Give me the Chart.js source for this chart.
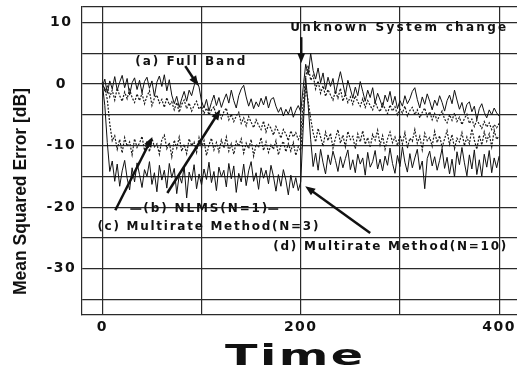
<!DOCTYPE html>
<html>
<head>
<meta charset="utf-8">
<style>
  html, body { margin: 0; padding: 0; background: #fff; }
  #wrap { width: 517px; height: 369px; }
</style>
<script src="https://cdn.jsdelivr.net/npm/chart.js@4.4.0/dist/chart.umd.min.js"></script>
</head>
<body>
<div id="wrap"><canvas id="mse" width="517" height="369"></canvas></div>
<script>
// one sample every 2.5 time steps, from 0 to 400
var timeStep = 2.5;

// (a) full band - solid, top
var fullBand = [
  -0.5, 0.8, -1.5, 0.5, -0.8, 1.2, -1.0, 0.3, 1.4, -0.6,
  0.9, -1.8, 0.2, 1.0, -0.9, 0.6, -1.4, 0.4, 1.1, -0.7,
  0.5, -2.0, 0.3, 1.3, -0.4, 1.5, -1.1, 0.7, -1.8, -3.2,
  -2.0, -3.8, -2.4, -1.2, -2.8, -1.0, -1.9, -0.3, 0.6, -0.5,
  -2.8, -3.9, -2.5, -4.4, -3.0, -1.8, -3.5, -2.2, -3.8, -2.6,
  -1.6, -3.1, -1.0, -2.7, -3.9, -1.9, -0.8, -0.2, -2.1, -3.6,
  -2.4, -4.0, -2.9, -3.7, -2.3, -3.4, -2.0, -3.9, -2.5, -2.2,
  -3.6, -4.6, -3.8, -5.2, -4.1, -4.9, -3.7, -5.4, -4.3, -3.5,
  -4.5, -0.5, 3.2, 1.5, 5.0, 2.2, 0.8, 2.6, 0.2, 1.8,
  -0.9, 1.1, -0.4, 0.9, -1.6, 0.3, 2.0, 0.1, -1.8, 0.6,
  -0.8, -2.3, -0.5, -1.9, 0.4, -1.2, -2.8, -1.0, -2.2, -0.6,
  -3.1, -1.5, -2.6, -3.8, -1.8, -2.9, -1.2, -3.4, -2.0, -4.0,
  -2.7, -3.6, -1.9, -3.2, -2.4, -1.2, -0.6, -2.5, -3.9, -2.1,
  -3.3, -1.6, -2.8, -4.2, -2.6, -3.5, -1.9, -3.0, -4.4, -2.7,
  -1.8, -3.2, -1.0, -2.6, -4.1, -3.0, -4.8, -3.3, -2.9, -4.5,
  -3.6, -5.8, -4.0, -3.2, -4.6, -5.5, -4.2, -5.0, -3.9, -4.7,
  -5.2
];

// (b) NLMS(N=1) - dotted, slow
var nlms = [
  0.3, -1.2, -0.4, -2.1, -1.0, -2.6, -0.7, -1.9, -2.8, -1.3,
  -2.4, -0.9, -2.2, -3.0, -1.6, -2.7, -1.5, -3.2, -2.0, -1.1,
  -3.5, -2.3, -1.8, -3.1, -2.5, -3.8, -2.2, -3.4, -2.9, -4.2,
  -3.0, -4.6, -3.3, -2.6, -4.0, -3.1, -4.4, -3.5, -2.8, -4.1,
  -3.6, -4.8, -3.9, -5.0, -4.2, -3.7, -5.3, -4.4, -5.6, -4.5,
  -3.9, -5.8, -4.9, -6.1, -5.2, -4.6, -6.4, -5.5, -6.8, -5.3,
  -6.2, -7.1, -5.8, -6.7, -7.4, -6.0, -7.8, -6.6, -7.2, -8.3,
  -6.9, -7.7, -8.8, -7.4, -8.1, -9.2, -7.6, -8.6, -7.9, -9.0,
  -8.2, -3.0, 1.2, 3.0, 0.6, 1.4, -0.8, 0.5, -1.5, -0.3,
  -2.0, -0.9, -1.8, -2.6, -1.1, -2.3, -0.7, -2.8, -1.6, -3.0,
  -2.1, -3.3, -1.9, -2.9, -3.6, -2.4, -3.8, -2.7, -3.5, -4.2,
  -2.9, -3.9, -4.5, -3.2, -4.0, -4.8, -3.4, -4.4, -3.7, -5.0,
  -4.1, -4.7, -3.6, -5.2, -4.3, -3.8, -5.0, -4.2, -5.5, -4.6,
  -3.9, -5.3, -4.5, -5.8, -4.8, -6.0, -5.1, -4.4, -5.7, -6.3,
  -5.0, -5.9, -4.7, -6.1, -5.4, -6.6, -5.6, -4.9, -6.4, -5.7,
  -6.9, -5.9, -6.5, -7.2, -6.1, -7.0, -6.3, -7.4, -6.6, -7.1,
  -6.4
];

// (c) multirate N=3 - dotted, around -10
var multirate3 = [
  0.0, -0.8, -2.5, -6.5, -9.2, -8.4, -10.6, -9.0, -11.2, -8.7,
  -10.1, -9.4, -11.5, -8.9, -10.3, -9.6, -8.5, -10.8, -9.3, -11.0,
  -8.8, -10.2, -9.7, -11.4, -9.0, -8.3, -10.5, -9.5, -11.8, -9.1,
  -10.4, -8.6, -10.9, -9.8, -11.3, -8.9, -10.0, -9.4, -11.1, -8.7,
  -10.3, -9.2, -11.6, -9.9, -8.8, -10.7, -9.5, -11.0, -9.1, -10.4,
  -8.6, -10.9, -9.7, -11.4, -9.3, -10.1, -8.9, -11.2, -9.6, -10.5,
  -9.0, -11.7, -9.8, -10.3, -8.7, -10.8, -9.4, -11.1, -9.9, -10.6,
  -9.2, -11.5, -10.0, -9.3, -11.0, -9.7, -10.9, -9.5, -11.6, -10.2,
  -10.8, -5.0, -0.5, -2.8, -5.6, -7.9, -9.4, -7.2, -8.6, -10.1,
  -7.8, -9.2, -8.0, -10.4, -8.8, -7.4, -9.6, -8.3, -10.2, -7.7,
  -9.0, -8.5, -10.5, -8.1, -9.4, -7.6, -9.8, -8.7, -10.3, -8.2,
  -9.1, -7.5, -9.9, -8.4, -10.6, -8.9, -7.8, -9.5, -8.6, -10.0,
  -8.3, -9.7, -7.9, -10.4, -8.8, -9.3, -7.4, -9.6, -8.5, -10.7,
  -8.0, -9.2, -8.7, -10.1, -7.7, -9.5, -8.4, -10.3, -8.9, -7.6,
  -9.8, -8.2, -10.5, -8.8, -9.4, -7.9, -10.0, -8.6, -9.7, -7.3,
  -9.1, -10.6, -8.3, -9.9, -7.8, -9.3, -8.1, -10.2, -7.5, -9.0,
  -8.4
];

// (d) multirate N=10 - solid, bottom
var multirate10 = [
  0.0, -3.5, -9.5, -14.2, -12.5, -15.8, -13.0, -16.6, -14.1, -12.4,
  -15.3, -17.2, -13.6, -15.9, -12.8, -14.7, -16.8, -13.9, -15.0, -12.6,
  -16.3, -14.4, -17.5, -13.2, -15.6, -14.0, -16.9, -12.9, -15.2, -13.7,
  -17.8, -14.8, -16.1, -13.4, -18.5, -14.3, -15.7, -13.1, -17.0, -14.6,
  -16.4, -13.8, -15.5, -12.7, -16.0, -14.2, -17.3, -13.5, -15.1, -14.0,
  -16.7, -12.9, -15.4, -13.3, -17.6, -14.5, -15.9, -13.0, -16.5, -14.1,
  -12.6, -15.8, -14.4, -17.1, -13.6, -15.3, -14.0, -16.2, -13.2, -15.0,
  -17.4, -14.7, -16.6, -13.9, -15.6, -18.0, -14.8, -16.9, -15.2, -17.3,
  -15.9, -7.0, 1.0, -3.5, -9.0, -13.4, -11.2, -14.0, -10.6, -12.8,
  -14.6, -11.5, -13.1, -10.9, -12.4, -14.2, -11.8, -13.6, -12.1, -10.7,
  -13.9, -12.3, -14.4, -11.4, -13.0, -12.0, -14.8, -11.1, -13.5, -12.6,
  -10.8, -13.8, -12.2, -14.1, -11.7, -13.2, -10.4, -12.9, -14.5, -11.6,
  -13.4, -10.2, -12.7, -14.3, -11.3, -13.6, -12.0, -10.6, -13.9, -12.5,
  -17.0, -12.1, -10.9, -13.3, -11.8, -14.0, -12.4, -10.5, -13.7, -11.9,
  -14.6, -12.2, -15.1, -11.0, -13.1, -10.3, -12.8, -14.9, -11.5, -13.8,
  -10.7, -14.7, -12.3, -15.0, -11.4, -13.5, -10.8, -14.4, -12.0, -13.6,
  -11.7
];

var xGrid = [0, 100, 200, 300, 400];
var xLabels = [0, 200, 400];
var yGrid = [12.5, 10, 5, 0, -5, -10, -15, -20, -25, -30, -35];
var yLabels = [10, 0, -10, -20, -30];

// annotations, in data units
var notes = [
  { text: '(a) Full Band', x: 33.2, y: 3.6, w: 110 },
  { text: 'Unknown System change', x: 189.4, y: 9.1, w: 216 },
  { text: '(b) NLMS(N=1)', x: 41.3, y: -20.3, w: 124 },
  { text: '(c) Multirate Method(N=3)', x: -5, y: -23.2, w: 221 },
  { text: '(d) Multirate Method(N=10)', x: 172.3, y: -26.5, w: 233 }
];
var arrows = [
  [83.6, 2.9, 96.7, -0.3],
  [200.5, 7.6, 200.5, 3.4],
  [13.1, -20.5, 50.4, -8.6],
  [65.5, -17.7, 118.9, -4.2],
  [270, -24.2, 204.5, -16.6]
];
var leaders = [
  [28.2, -20.3, 39.3, -20.3],
  [167.3, -20.3, 177.3, -20.3]
];

function toPoints(arr) {
  return arr.map(function(v, i) { return { x: i * timeStep, y: v }; });
}

// draw text stretched/spaced so it spans a given width
function fitText(ctx, txt, x, y, width, font, stretch) {
  ctx.save();
  ctx.font = font;
  ctx.letterSpacing = '0px';
  var natural = ctx.measureText(txt).width * stretch;
  var gap = (width - natural) / (txt.length - 1);
  ctx.translate(x, y);
  ctx.scale(stretch, 1);
  ctx.letterSpacing = (gap / stretch) + 'px';
  ctx.fillText(txt, 0, 0);
  ctx.restore();
}

function drawArrow(ctx, x1, y1, x2, y2, head) {
  var a = Math.atan2(y2 - y1, x2 - x1);
  ctx.beginPath();
  ctx.moveTo(x1, y1);
  ctx.lineTo(x2 - head * 0.7 * Math.cos(a), y2 - head * 0.7 * Math.sin(a));
  ctx.stroke();
  if (!head) return;
  ctx.beginPath();
  ctx.moveTo(x2, y2);
  ctx.lineTo(x2 - head * Math.cos(a) + head * 0.4 * Math.sin(a), y2 - head * Math.sin(a) - head * 0.4 * Math.cos(a));
  ctx.lineTo(x2 - head * Math.cos(a) - head * 0.4 * Math.sin(a), y2 - head * Math.sin(a) + head * 0.4 * Math.cos(a));
  ctx.closePath();
  ctx.fill();
}

var notesPlugin = {
  id: 'notes',
  beforeDraw: function(chart) {
    // spaced-out tick digits like the scan
    chart.ctx.letterSpacing = '1.5px';
  },
  afterDraw: function(chart) {
    var ctx = chart.ctx;
    var xs = chart.scales.x, ys = chart.scales.y;
    ctx.save();
    ctx.letterSpacing = '0px';
    ctx.fillStyle = '#111';
    ctx.strokeStyle = '#111';
    ctx.textBaseline = 'middle';
    ctx.textAlign = 'left';

    notes.forEach(function(n) {
      fitText(ctx, n.text, xs.getPixelForValue(n.x), ys.getPixelForValue(n.y), n.w,
        'bold 12px "DejaVu Sans", sans-serif', 1);
    });

    ctx.lineWidth = 2.5;
    arrows.forEach(function(a) {
      drawArrow(ctx, xs.getPixelForValue(a[0]), ys.getPixelForValue(a[1]),
        xs.getPixelForValue(a[2]), ys.getPixelForValue(a[3]), 10);
    });
    ctx.lineWidth = 1.5;
    leaders.forEach(function(a) {
      drawArrow(ctx, xs.getPixelForValue(a[0]), ys.getPixelForValue(a[1]),
        xs.getPixelForValue(a[2]), ys.getPixelForValue(a[3]), 0);
    });

    // axis titles
    ctx.textBaseline = 'alphabetic';
    fitText(ctx, 'Time', 225, 365, 138, 'bold 28px "DejaVu Sans", sans-serif', 1.7);

    ctx.save();
    ctx.translate(26, 191.5);
    ctx.rotate(-Math.PI / 2);
    ctx.textAlign = 'center';
    ctx.textBaseline = 'alphabetic';
    ctx.font = 'bold 19px "Liberation Sans Narrow", "Liberation Sans", sans-serif';
    var w = ctx.measureText('Mean Squared Error [dB]').width;
    ctx.scale(207 / w, 1);
    ctx.fillText('Mean Squared Error [dB]', 0, 0);
    ctx.restore();

    ctx.restore();
  }
};

document.addEventListener('DOMContentLoaded', function() {
  var ctx = document.getElementById('mse').getContext('2d');

  var gridColor = '#2a2a2a';
  var tickFont = { family: '"DejaVu Sans", sans-serif', size: 14, weight: 'bold' };

  var myChart = new Chart(ctx, {
    type: 'line',
    data: {
      datasets: [
        { label: '(b) NLMS(N=1)', data: toPoints(nlms), borderColor: '#1a1a1a', borderWidth: 1.2, borderDash: [2, 1.5] },
        { label: '(c) Multirate Method(N=3)', data: toPoints(multirate3), borderColor: '#1a1a1a', borderWidth: 1.2, borderDash: [2, 1.5] },
        { label: '(a) Full Band', data: toPoints(fullBand), borderColor: '#111', borderWidth: 1 },
        { label: '(d) Multirate Method(N=10)', data: toPoints(multirate10), borderColor: '#111', borderWidth: 1 }
      ]
    },
    options: {
      responsive: false,
      animation: false,
      devicePixelRatio: 1,
      elements: { point: { radius: 0 }, line: { tension: 0 } },
      layout: { padding: { top: 7, left: 0, right: 0, bottom: 0 } },
      plugins: { legend: { display: false }, tooltip: { enabled: false } },
      events: [],
      scales: {
        x: {
          type: 'linear',
          min: -20.5,
          max: 418,
          afterBuildTicks: function(scale) {
            scale.ticks = xGrid.map(function(v) { return { value: v }; });
          },
          afterFit: function(scale) {
            scale.height = 54;
            scale.paddingLeft = 0; scale.paddingRight = 0;
          },
          grid: { color: gridColor, lineWidth: 1.2, drawTicks: false },
          border: { color: gridColor, width: 1.2 },
          ticks: {
            autoSkip: false,
            maxRotation: 0,
            padding: 4,
            color: '#111',
            font: tickFont,
            callback: function(v) { return xLabels.indexOf(v) >= 0 ? String(v) : ''; }
          }
        },
        y: {
          min: -37.5,
          max: 12.5,
          afterBuildTicks: function(scale) {
            scale.ticks = yGrid.map(function(v) { return { value: v }; });
          },
          afterFit: function(scale) {
            scale.width = 82;
            scale.paddingTop = 0; scale.paddingBottom = 0;
          },
          grid: { color: gridColor, lineWidth: 1.2, drawTicks: false },
          border: { color: gridColor, width: 1.2 },
          ticks: {
            autoSkip: false,
            crossAlign: 'center',
            padding: 8,
            color: '#111',
            font: tickFont,
            callback: function(v) { return yLabels.indexOf(v) >= 0 ? String(v) : ''; }
          }
        }
      }
    },
    plugins: [notesPlugin]
  });
});
</script>
</body>
</html>
